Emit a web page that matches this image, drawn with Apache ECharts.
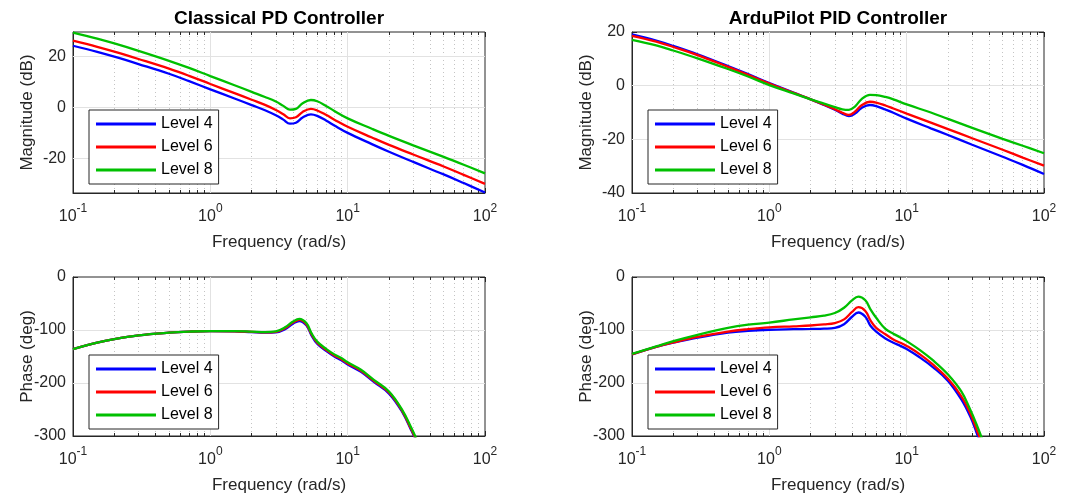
<!doctype html>
<html>
<head>
<meta charset="utf-8">
<title>PD vs PID Bode</title>
<script src="https://cdn.jsdelivr.net/npm/echarts@6/dist/echarts.min.js"></script>
<style>
  html, body { margin: 0; padding: 0; background: #fff; }
  #main { width: 1077px; height: 495px; }
</style>
</head>
<body>
<div id="main"></div>
<script>
// frequencies (rad/s) the curves were read at
var freqMag = [0.1, 0.15, 0.2, 0.3, 0.5, 0.7, 1, 1.5, 2, 2.5, 3, 3.4, 3.8, 4.2, 4.7, 5.4, 6, 7, 8, 10, 15, 20, 30, 50, 70, 100];
var freqPh  = [0.1, 0.15, 0.2, 0.3, 0.5, 0.7, 1, 1.5, 2, 2.5, 3, 3.5, 4, 4.45, 5, 5.45, 6, 7, 8, 9, 10, 12.5, 15.5, 20, 25, 29, 32, 36];

// Classical PD - magnitude (dB)
var pdMag4 = [24.3, 21.9, 20.0, 17.1, 13.3, 10.4, 7.2, 3.6, 1.0, -1.0, -3.0, -4.7, -6.3, -5.9, -3.9, -2.6, -3.2, -5.1, -7.0, -9.9, -14.3, -17.3, -21.3, -26.2, -29.6, -33.3];
var pdMag6 = [26.3, 23.9, 22.0, 19.1, 15.3, 12.5, 9.3, 5.7, 3.1, 1.1, -0.9, -2.6, -4.2, -3.8, -1.7, -0.5, -1.1, -2.9, -4.7, -7.5, -11.7, -14.6, -18.4, -23.1, -26.4, -29.9];
var pdMag8 = [29.5, 27.1, 25.2, 22.3, 18.4, 15.6, 12.4, 8.8, 6.2, 4.2, 2.4, 0.7, -0.8, -0.5, 1.7, 3.0, 2.5, 0.6, -1.3, -4.2, -8.3, -11.1, -14.8, -19.3, -22.4, -25.8];

// ArduPilot PID - magnitude (dB)
var pidMag4 = [19.1, 16.8, 14.8, 11.7, 7.3, 4.3, 1.0, -2.6, -5.1, -7.2, -9.0, -10.4, -11.3, -10.4, -8.3, -7.2, -7.6, -8.9, -10.1, -12.3, -15.9, -18.4, -22.0, -26.5, -29.5, -32.9];
var pidMag6 = [18.6, 16.4, 14.4, 11.4, 7.0, 4.0, 0.8, -2.7, -5.1, -7.1, -8.8, -10.1, -10.9, -9.7, -7.3, -6.0, -6.3, -7.4, -8.5, -10.4, -13.8, -16.2, -19.6, -23.9, -26.8, -29.8];
var pidMag8 = [17.1, 15.0, 13.1, 10.2, 6.2, 3.4, 0.2, -2.9, -5.1, -6.7, -8.0, -8.8, -9.0, -7.8, -5.0, -3.4, -3.5, -4.2, -5.1, -7.0, -10.0, -12.4, -15.7, -19.8, -22.4, -25.2];

// Classical PD - phase (deg)
var pdPh4 = [-136, -124, -117, -110, -105, -103, -102, -102.5, -104, -105, -104.5, -98.5, -88, -83, -91, -110, -126, -140, -150, -157, -165, -179, -198, -220, -255, -289, -313, -345];
var pdPh6 = [-136, -124, -117, -110, -105, -103, -102, -102.5, -103.5, -104.5, -103.5, -96.5, -86, -81, -89, -108, -124, -138, -148, -155, -163, -177, -196, -218, -253, -287, -311, -342];
var pdPh8 = [-136, -124, -117, -110, -105, -103, -102, -102, -103, -104, -102.5, -95, -84, -79, -87, -106, -122, -136, -146, -153, -161, -175, -194, -216, -251, -284, -308, -339];

// ArduPilot PID - phase (deg)
var pidPh4 = [-146, -132, -124, -114.5, -105, -101.5, -99.5, -98.5, -98, -97.5, -96, -89, -75, -67, -75, -92, -103, -116, -124, -130, -136, -152, -170, -196, -231, -263, -291, -328];
var pidPh6 = [-146, -132, -123.5, -113, -103, -98.5, -95, -93, -91.5, -89.5, -87, -80, -66, -57, -64, -82, -96, -108, -118, -124, -130, -146, -165, -192, -225, -257, -285, -320];
var pidPh8 = [-145, -131, -121, -109, -96, -90, -86, -80, -76, -73, -68, -58, -44, -37, -44, -61, -77, -98, -107, -114, -121, -138, -157, -184, -216, -250, -276, -310];

var levels = ['Level 4', 'Level 6', 'Level 8'];
var colors = ['#0000ff', '#ff0000', '#00c000'];
var titles = ['Classical PD Controller', 'ArduPilot PID Controller'];

// grid lines (log decades are the major ones)
var minorFreq = [0.2, 0.3, 0.4, 0.5, 0.6, 0.7, 0.8, 0.9, 2, 3, 4, 5, 6, 7, 8, 9, 20, 30, 40, 50, 60, 70, 80, 90];
var majorFreq = [1, 10];

var font = "'Liberation Sans', Arial, Helvetica, sans-serif";
var textCol = '#262626';

var panels = [
    { left: 73,  top: 32,  height: 161, freq: freqMag, ys: [pdMag4, pdMag6, pdMag8],    min: -33.5, max: 29.7, labels: [-20, 0, 20],           hlines: [-20, 0, 20], name: 'Magnitude (dB)' },
    { left: 632, top: 32,  height: 161, freq: freqMag, ys: [pidMag4, pidMag6, pidMag8], min: -40,   max: 20,   labels: [-40, -20, 0, 20],      hlines: [-20, 0],     name: 'Magnitude (dB)' },
    { left: 73,  top: 277, height: 160, freq: freqPh,  ys: [pdPh4, pdPh6, pdPh8],       min: -300,  max: 0,    labels: [-300, -200, -100, 0],  hlines: [-200, -100], name: 'Phase (deg)' },
    { left: 632, top: 277, height: 160, freq: freqPh,  ys: [pidPh4, pidPh6, pidPh8],    min: -300,  max: 0,    labels: [-300, -200, -100, 0],  hlines: [-200, -100], name: 'Phase (deg)' }
];

function pts(xs, ys) {
    return xs.map(function (x, i) { return [x, ys[i]]; });
}

var grids = [], xAxes = [], yAxes = [], series = [], legends = [];
var boxX = [], boxY = [];

panels.forEach(function (p, i) {
    grids.push({
        left: p.left, top: p.top, width: 412, height: p.height,
        show: true, borderColor: textCol, borderWidth: 1, backgroundColor: '#fff'
    });
    xAxes.push({
        type: 'log', logBase: 10, min: 0.1, max: 100, gridIndex: i,
        name: 'Frequency (rad/s)', nameLocation: 'middle', nameGap: 41, nameMoveOverlap: false,
        nameTextStyle: { fontSize: 17, color: textCol, fontFamily: font },
        axisLine: { onZero: false, lineStyle: { color: textCol } },
        axisTick: { inside: true, length: 5, lineStyle: { color: textCol } },
        splitLine: { show: false },
        axisLabel: {
            margin: 6,
            formatter: function (v) {
                return '{b|10}{s|' + Math.round(Math.log10(v)) + '}';
            },
            rich: {
                b: { fontSize: 16, color: textCol, fontFamily: font, lineHeight: 26, verticalAlign: 'bottom' },
                s: { fontSize: 12, color: textCol, fontFamily: font, lineHeight: 20, verticalAlign: 'top', padding: [4, 0, 0, 0] }
            }
        }
    });
    yAxes.push({
        type: 'value', min: p.min, max: p.max, gridIndex: i,
        name: p.name, nameLocation: 'middle', nameGap: 37, nameRotate: 90, nameMoveOverlap: false,
        nameTextStyle: { fontSize: 17, color: textCol, fontFamily: font },
        axisLine: { show: true, onZero: false, lineStyle: { color: textCol } },
        axisTick: { inside: true, length: 5, customValues: p.labels, lineStyle: { color: textCol } },
        splitLine: { show: false },
        axisLabel: { customValues: p.labels, fontSize: 16, color: textCol, fontFamily: font, margin: 7 }
    });
    // matching ticks along the top and right edges of the box
    boxX.push({
        type: 'log', logBase: 10, min: 0.1, max: 100, gridIndex: i, position: 'top',
        axisLine: { show: false, onZero: false }, axisLabel: { show: false }, splitLine: { show: false },
        axisTick: { inside: true, length: 5, lineStyle: { color: textCol } }
    });
    boxY.push({
        type: 'value', min: p.min, max: p.max, gridIndex: i, position: 'right',
        axisLine: { show: false, onZero: false }, axisLabel: { show: false }, splitLine: { show: false },
        axisTick: { inside: true, length: 5, customValues: p.labels, lineStyle: { color: textCol } }
    });

    // grid lines drawn behind the curves
    var lines = [];
    var tickLen = (p.max - p.min) / p.height * 3; // 3px minor tick in data units
    minorFreq.forEach(function (f) {
        lines.push({ xAxis: f, lineStyle: { type: [1, 3], color: '#c4c4c4', width: 1 } });
        lines.push([{ coord: [f, p.min], lineStyle: { type: 'solid', color: textCol, width: 1 } }, { coord: [f, p.min + tickLen] }]);
        lines.push([{ coord: [f, p.max], lineStyle: { type: 'solid', color: textCol, width: 1 } }, { coord: [f, p.max - tickLen] }]);
    });
    majorFreq.forEach(function (f) {
        lines.push({ xAxis: f, lineStyle: { type: 'solid', color: '#e2e2e2', width: 1 } });
    });
    p.hlines.forEach(function (v) {
        lines.push([
            { coord: [0.1, v], lineStyle: { type: 'solid', color: '#e2e2e2', width: 1 } },
            { coord: [100, v] }
        ]);
    });
    series.push({
        type: 'line', data: [], xAxisIndex: i, yAxisIndex: i, silent: true, z: 1,
        markLine: { silent: true, z: 1, symbol: ['none', 'none'], label: { show: false }, animation: false, data: lines }
    });

    p.ys.forEach(function (ys, k) {
        series.push({
            name: levels[k], type: 'line', xAxisIndex: i, yAxisIndex: i, z: 3,
            data: pts(p.freq, ys), showSymbol: false, symbol: 'none', smooth: 0.4,
            lineStyle: { color: colors[k], width: 2.3 }, itemStyle: { color: colors[k] }
        });
    });

    legends.push({
        data: levels, orient: 'vertical', left: p.left + 16, top: p.top + 78,
        icon: 'rect', itemWidth: 60, itemHeight: 3, itemGap: 7,
        padding: [6, 6, 6, 7], borderColor: textCol, borderWidth: 1, backgroundColor: '#fff',
        selectedMode: false, z: 10,
        textStyle: { fontSize: 16, color: '#000', fontFamily: font }
    });
});

var myChart = echarts.init(document.getElementById('main'));
myChart.setOption({
    animation: false,
    backgroundColor: '#fff',
    title: [
        { text: titles[0], left: 279, top: 9, textAlign: 'center', padding: 0, textStyle: { fontSize: 19, fontWeight: 'bold', color: '#000', fontFamily: font } },
        { text: titles[1], left: 838, top: 9, textAlign: 'center', padding: 0, textStyle: { fontSize: 19, fontWeight: 'bold', color: '#000', fontFamily: font } }
    ],
    grid: grids,
    xAxis: xAxes.concat(boxX),
    yAxis: yAxes.concat(boxY),
    legend: legends,
    series: series
});
</script>
</body>
</html>
